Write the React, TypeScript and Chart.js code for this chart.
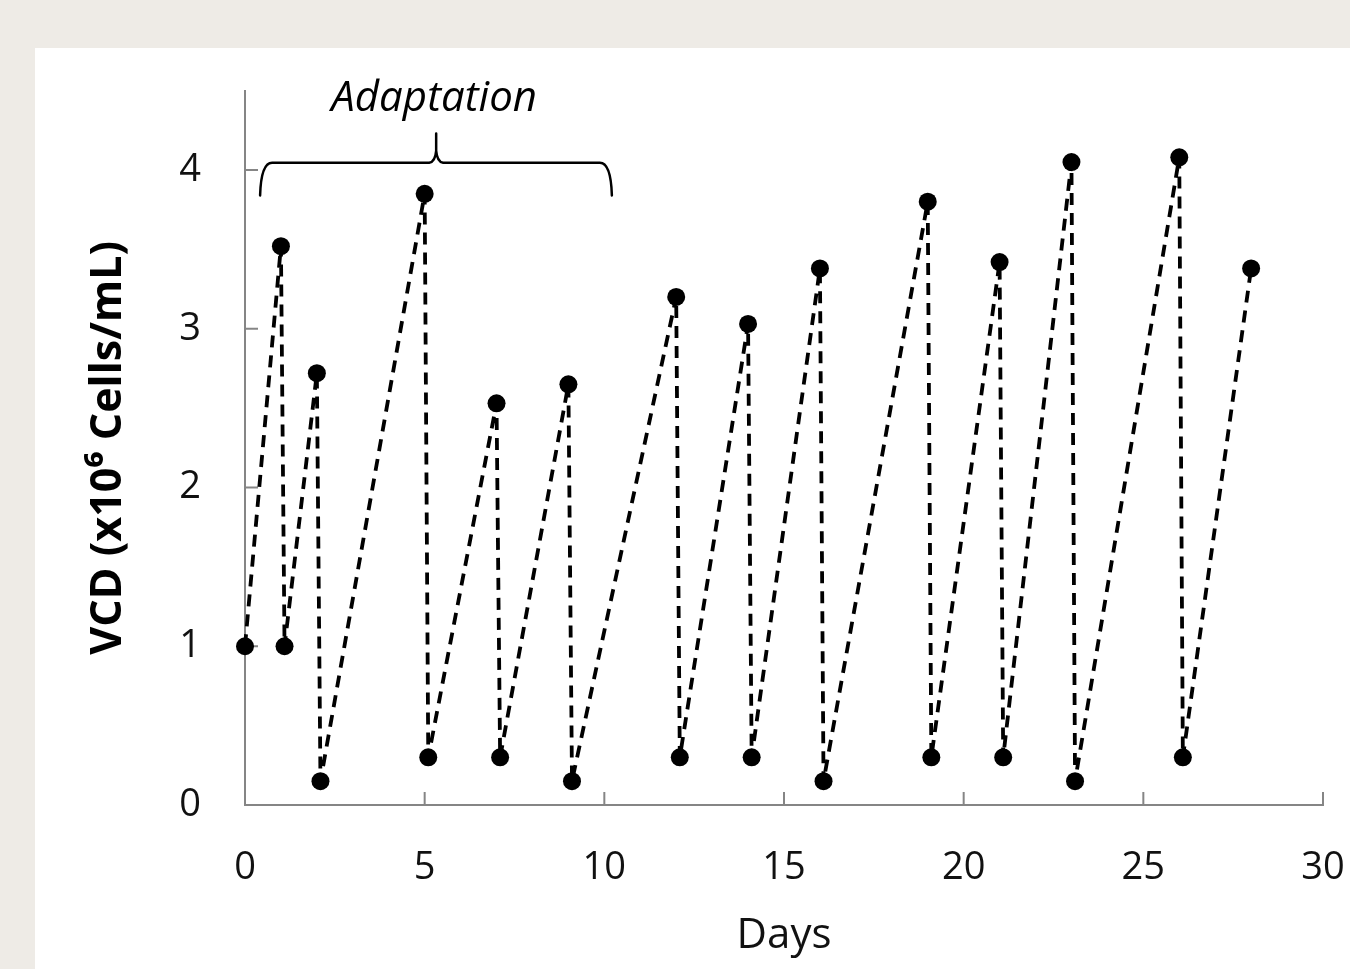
import React, { useEffect, useRef } from "react";
import { Chart, registerables } from "chart.js";

Chart.register(...registerables);

// Days of each measurement (peak before split, then value right after split)
const days = [0, 1, 1.1, 2, 2.1, 5, 5.1, 7, 7.1, 9, 9.1, 12, 12.1, 14, 14.1, 16, 16.1, 19, 19.1, 21, 21.1, 23, 23.1, 26, 26.1, 28];
// Viable cell density (x10^6 cells/mL)
const vcd = [1.0, 3.52, 1.0, 2.72, 0.15, 3.85, 0.3, 2.53, 0.3, 2.65, 0.15, 3.2, 0.3, 3.03, 0.3, 3.38, 0.15, 3.8, 0.3, 3.42, 0.3, 4.05, 0.15, 4.08, 0.3, 3.38];

const xTicks = [0, 5, 10, 15, 20, 25, 30];
const yTicks = [0, 1, 2, 3, 4];

const xTitle = "Days";
const yTitle = "VCD (x10\u2076 Cells/mL)";
const bracketLabel = "Adaptation";
// bracket annotation, in data units
const bracketStart = 0.42;
const bracketEnd = 10.21;
const bracketMid = 5.32;
const bracketLevel = 4.045;
const bracketFoot = 3.84;
const bracketTip = 4.23;
const labelY = 4.45;

const FONT = "'Open Sans', 'Liberation Sans', sans-serif";
const AXIS = "#858585";

const bgPlugin = {
  id: "bgPanel",
  beforeDraw(chart: any) {
    const { ctx, width, height } = chart;
    ctx.save();
    ctx.fillStyle = "#eeebe6";
    ctx.fillRect(0, 0, width, height);
    ctx.fillStyle = "#ffffff";
    ctx.fillRect(35, 48, width - 35, height - 48);
    ctx.restore();
  },
};

const extrasPlugin = {
  id: "extras",
  beforeDatasetsDraw(chart: any) {
    const { ctx, scales } = chart;
    const xs = scales.x;
    const ys = scales.y;
    ctx.save();
    ctx.strokeStyle = AXIS;
    ctx.lineWidth = 2;
    const tl = 13;
    xTicks.forEach((v) => {
      const px = xs.getPixelForValue(v);
      const py = ys.getPixelForValue(0);
      ctx.beginPath();
      ctx.moveTo(px, py);
      ctx.lineTo(px, py - tl);
      ctx.stroke();
    });
    yTicks.forEach((v) => {
      const px = xs.getPixelForValue(0);
      const py = ys.getPixelForValue(v);
      ctx.beginPath();
      ctx.moveTo(px, py);
      ctx.lineTo(px + tl, py);
      ctx.stroke();
    });
    ctx.restore();
  },
  afterDatasetsDraw(chart: any) {
    const { ctx, scales } = chart;
    const xs = scales.x;
    const ys = scales.y;
    ctx.save();
    const x0 = xs.getPixelForValue(bracketStart);
    const x1 = xs.getPixelForValue(bracketEnd);
    const xc = xs.getPixelForValue(bracketMid);
    const yH = ys.getPixelForValue(bracketLevel);
    const yF = ys.getPixelForValue(bracketFoot);
    const yT = ys.getPixelForValue(bracketTip);
    const r = 12;
    ctx.strokeStyle = "#000";
    ctx.lineWidth = 2.5;
    ctx.lineCap = "round";
    ctx.beginPath();
    ctx.moveTo(x0, yF);
    ctx.quadraticCurveTo(x0 + 1, yH, x0 + r, yH);
    ctx.lineTo(xc - 7, yH);
    ctx.quadraticCurveTo(xc - 1, yH - 1, xc, yH - 12);
    ctx.lineTo(xc, yT);
    ctx.moveTo(x1, yF);
    ctx.quadraticCurveTo(x1 - 1, yH, x1 - r, yH);
    ctx.lineTo(xc + 7, yH);
    ctx.quadraticCurveTo(xc + 1, yH - 1, xc, yH - 12);
    ctx.stroke();

    ctx.fillStyle = "#000";
    ctx.font = `italic 42px ${FONT}`;
    ctx.textAlign = "center";
    ctx.textBaseline = "middle";
    ctx.fillText(bracketLabel, xc - 2, ys.getPixelForValue(labelY));
    ctx.restore();
  },
};

export default function App() {
  const canvasRef = useRef<HTMLCanvasElement | null>(null);

  useEffect(() => {
    const canvas = canvasRef.current;
    if (!canvas) return;
    const chart = new Chart(canvas, {
      type: "line",
      data: {
        datasets: [
          {
            data: days.map((d, i) => ({ x: d, y: vcd[i] })),
            borderColor: "#000",
            borderWidth: 3.8,
            borderDash: [12, 8],
            borderJoinStyle: "round",
            backgroundColor: "#000",
            pointBackgroundColor: "#000",
            pointBorderColor: "#000",
            pointBorderWidth: 0,
            pointRadius: 9,
            tension: 0,
            fill: false,
            clip: false,
          },
        ],
      },
      options: {
        animation: false,
        responsive: false,
        maintainAspectRatio: false,
        layout: { padding: { top: 90.6, right: 27, left: 0, bottom: 0 } },
        plugins: { legend: { display: false }, tooltip: { enabled: false } },
        scales: {
          x: {
            type: "linear",
            min: 0,
            max: 30,
            afterBuildTicks: (s: any) => {
              s.ticks = xTicks.map((v) => ({ value: v }));
            },
            afterFit: (s: any) => {
              s.height = 164;
              s.paddingLeft = 0;
              s.paddingRight = 0;
            },
            grid: { display: false, drawTicks: false },
            border: { display: true, color: AXIS, width: 2 },
            ticks: {
              color: "#111",
              font: { family: FONT, size: 38 },
              padding: 40,
              maxRotation: 0,
            },
            title: {
              display: true,
              text: xTitle,
              color: "#111",
              font: { family: FONT, size: 42 },
              padding: { top: 0, bottom: 8 },
            },
          },
          y: {
            type: "linear",
            min: 0,
            max: 4.5,
            afterBuildTicks: (s: any) => {
              s.ticks = yTicks.map((v) => ({ value: v }));
            },
            afterFit: (s: any) => {
              s.width = 245;
              s.paddingTop = 0;
              s.paddingBottom = 0;
            },
            grid: { display: false, drawTicks: false },
            border: { display: true, color: AXIS, width: 2 },
            ticks: {
              color: "#111",
              font: { family: FONT, size: 38 },
              padding: 44,
            },
            title: {
              display: true,
              text: yTitle,
              color: "#000",
              font: { family: FONT, size: 43, weight: "bold" },
              padding: { top: 83, bottom: 0 },
            },
          },
        },
      },
      plugins: [bgPlugin, extrasPlugin],
    });
    return () => chart.destroy();
  }, []);

  return (
    <div style={{ position: "fixed", left: 0, top: 0, width: 1350, height: 969 }}>
      <canvas ref={canvasRef} width={1350} height={969} style={{ display: "block" }} />
    </div>
  );
}
